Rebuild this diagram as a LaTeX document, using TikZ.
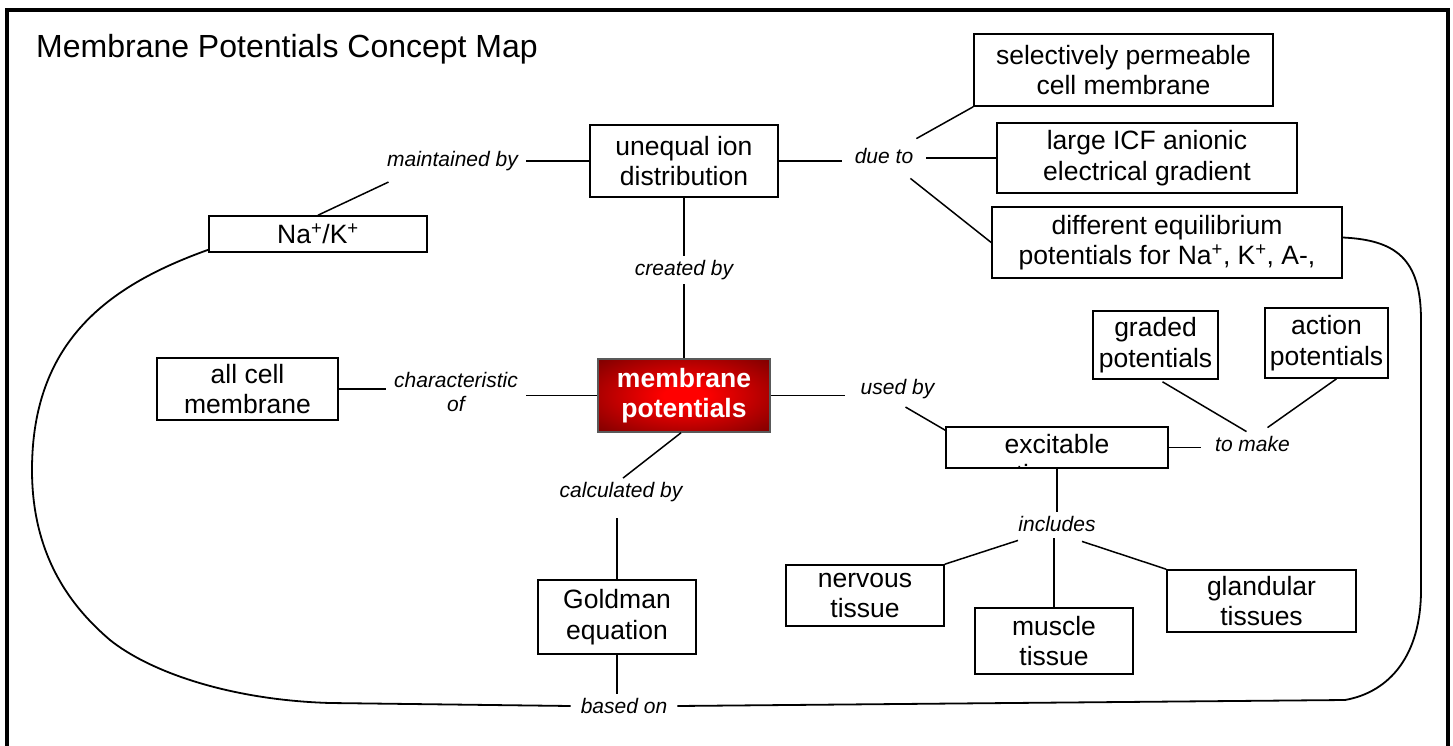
\documentclass[tikz,border=0pt]{standalone}
\usepackage{fontspec}
\setmainfont{Liberation Sans}
\usetikzlibrary{calc}
\definecolor{memred}{RGB}{255,0,0}
\definecolor{memdark}{RGB}{115,0,0}
\pgfdeclareradialshading{memshade}{\pgfpoint{0bp}{0bp}}{color(0bp)=(memred); color(6bp)=(memred); color(38bp)=(memdark); color(50bp)=(memdark)}
\begin{document}
\begin{tikzpicture}[x=1pt,y=-1pt,
  box/.style={draw=black, line width=1.6pt, fill=white, inner sep=0pt, align=center, font=\fontsize{26.5}{30.5}\selectfont},
  lbl/.style={inner xsep=8pt, inner ysep=4pt, align=center, font=\fontsize{21}{24}\selectfont\itshape},
  conn/.style={line width=1.5pt},
  bigloop/.style={line width=1.8pt},
]
\clip (0,0) rectangle (1453,746);
\fill[white] (0,0) rectangle (1453,746);
\draw[line width=4pt] (7,760) -- (7,10.5) -- (1447.5,10.5) -- (1447.5,760);

\node[anchor=base west, inner sep=0pt, font=\fontsize{32}{36}\selectfont] (title) at (36,58) {Membrane Potentials Concept Map};

% boxes
\node[box, minimum width=299, minimum height=72] (sel) at (1123.5,70) {selectively permeable\\cell membrane};
\node[box, minimum width=300, minimum height=70] (icf) at (1147,158) {large ICF anionic\\electrical gradient};
\node[box, minimum width=350, minimum height=71] (eq) at (1167,242.5) {different equilibrium\\potentials for Na\textsuperscript{+}, K\textsuperscript{+}, A-,};
\node[box, minimum width=218, minimum height=36] (nak) at (318,234) {Na\textsuperscript{+}/K\textsuperscript{+}};
\node[box, minimum width=181, minimum height=62] (allcell) at (247.5,389) {all cell\\membrane};
\node[box, minimum width=188, minimum height=72] (uneq) at (684,161) {unequal ion\\distribution};
\node[box, draw=black!65, shading=memshade, text=white, font=\fontsize{26.5}{30.5}\selectfont\bfseries, minimum width=172, minimum height=73] (mem) at (684,395.5) {membrane\\potentials};
\node[box, minimum width=158, minimum height=74] (gold) at (617,617) {Goldman\\equation};
\node[box, minimum width=125, minimum height=68] (graded) at (1155.5,345) {graded\\potentials};
\node[box, minimum width=123, minimum height=70] (action) at (1326.5,343) {action\\potentials};
\node[box, minimum width=222, minimum height=41] (exc) at (1057,447.5) {};
\begin{scope}
  \clip (exc.north west) rectangle (exc.south east);
  \node[box, draw=none, fill=none, anchor=north] (exctext) at (1057,433) {excitable\\tissues};
\end{scope}
\node[box, minimum width=158, minimum height=61] (nerv) at (865,595.5) {nervous\\tissue};
\node[box, minimum width=158, minimum height=66] (musc) at (1054,641) {muscle\\tissue};
\node[box, minimum width=189, minimum height=62] (gland) at (1261.5,601) {glandular\\tissues};

% labels
\node[lbl, anchor=base] (maint) at (452.5,166.5) {maintained by};
\node[lbl, anchor=base, inner xsep=13pt] (due) at (884,164) {due to};
\node[lbl, anchor=base] (created) at (684,275.5) {created by};
\node[lbl] (charac) at (456,392) {characteristic\\of};
\node[lbl, anchor=base, inner xsep=16pt] (usedby) at (897.5,394.5) {used by};
\node[lbl, anchor=base] (calc) at (621,497.5) {calculated by};
\node[lbl, anchor=base, inner xsep=14pt] (tomake) at (1252.5,451) {to make};
\node[lbl, anchor=base] (incl) at (1057,531) {includes};
\node[lbl, anchor=base, inner xsep=10pt] (based) at (624,713.5) {based on};

% connectors
\draw[conn] (uneq.west) -- (uneq.west -| maint.east);
\draw[conn] ([xshift=-64pt,yshift=-7pt]maint.south) -- (nak.north);
\draw[conn] (uneq.east) -- (uneq.east -| due.west);
\draw[conn] (icf.west -| due.east) -- (icf.west);
\draw[conn] ([xshift=-10pt,yshift=6pt]due.north east) -- (sel.south west);
\draw[conn] ([xshift=-16pt,yshift=-10pt]due.south east) -- (eq.west);
\draw[conn] (uneq.south) -- (uneq.south |- created.north);
\draw[conn] (mem.north |- created.south) -- (mem.north);
\draw[conn] (allcell.east) -- (allcell.east -| charac.west);
\draw[conn] (mem.west -| charac.east) -- (mem.west);
\draw[conn] (mem.east) -- (mem.east -| usedby.west);
\draw[conn] ([xshift=8pt,yshift=-4pt]usedby.south) -- ([yshift=-4pt]exc.north west);
\draw[conn] ([xshift=-3pt]mem.south) -- ([xshift=2pt]calc.north);
\draw[conn] ($(gold.north |- calc.south)+(0,12)$) -- (gold.north);
\draw[conn] (gold.south) -- (gold.south |- based.north);
\draw[conn] (exc.east) -- (exc.east -| tomake.west);
\draw[conn] ([xshift=7pt,yshift=-2pt]graded.south) -- ([xshift=-6pt]tomake.north);
\draw[conn] ([xshift=10pt]action.south) -- ([xshift=15pt,yshift=4pt]tomake.north);
\draw[conn] (exc.south) -- (exc.south |- incl.north);
\draw[conn] ([xshift=-39pt,yshift=-5pt]incl.south) -- (nerv.north east);
\draw[conn] ($(musc.north |- incl.south)+(0,3)$) -- (musc.north);
\draw[conn] ([xshift=25pt,yshift=-6pt]incl.south) -- (gland.north west);

% big loops
\draw[bigloop] ([yshift=3pt]nak.south west) .. controls (110,285) and (32,340) .. (32,470)
  .. controls (32,560) and (75,610) .. (110,640)
  .. controls (150,672) and (230,700) .. (330,703) -- (based.west);
\draw[bigloop] (based.east) -- (1345,700) .. controls (1390,692) and (1421,655) .. (1421,590)
  -- (1421,320) .. controls (1421,258) and (1395,240) .. ([yshift=5pt]eq.east);
\end{tikzpicture}
\end{document}
